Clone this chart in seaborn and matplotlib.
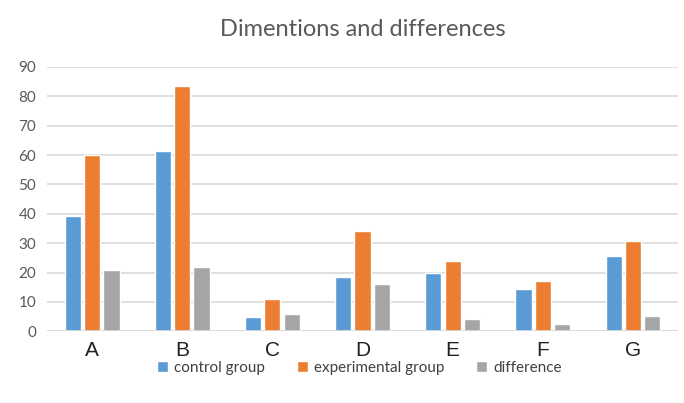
import matplotlib
matplotlib.use("Agg")
import matplotlib.pyplot as plt
import seaborn as sns
import pandas as pd

categories = ["A", "B", "C", "D", "E", "F", "G"]
control_group = [39.2, 61.3, 4.8, 18.4, 19.7, 14.5, 25.5]
experimental_group = [59.9, 83.4, 11.0, 34.3, 23.9, 17.1, 30.6]
difference = [20.7, 21.9, 6.0, 16.1, 4.1, 2.5, 5.1]
series_names = ["control group", "experimental group", "difference"]
y_ticks = [0, 10, 20, 30, 40, 50, 60, 70, 80, 90]

rows = []
for name, vals in zip(series_names, [control_group, experimental_group, difference]):
    for c, v in zip(categories, vals):
        rows.append({"cat": c, "series": name, "value": v})
df = pd.DataFrame(rows)

sns.set_theme(style="white")
plt.rcParams["font.family"] = ["Lato", "DejaVu Sans"]

fig = plt.figure(figsize=(6.84, 4.03), dpi=100)
ax = fig.add_axes([0.069, 0.178, 0.922, 0.656])

palette = ["#5B9BD5", "#ED7D31", "#A5A5A5"]
sns.barplot(data=df, x="cat", y="value", hue="series", palette=palette,
            width=0.64, gap=0.16, ax=ax, saturation=1, legend=True)

ax.set_ylim(0, 90)
ax.set_yticks(y_ticks)
ax.yaxis.grid(True, color="#D9D9D9", linewidth=1.2)
ax.set_axisbelow(True)
for s in ax.spines.values():
    s.set_visible(False)
ax.set_xlabel("")
ax.set_ylabel("")
ax.tick_params(axis="y", labelsize=11, colors="#595959", length=0, pad=8)
ax.tick_params(axis="x", labelsize=15, colors="#222222", length=0, pad=7)
for lbl in ax.get_xticklabels():
    lbl.set_fontfamily(["Liberation Sans", "DejaVu Sans"])
ax.axhline(0, color="#D9D9D9", linewidth=1.2)

ax.set_title("Dimentions and differences", fontsize=17, color="#595959", pad=22)

leg = ax.legend(loc="upper center", bbox_to_anchor=(0.495, -0.06), ncol=3, frameon=False,
                fontsize=11, handlelength=0.7, handleheight=0.7, columnspacing=2.1,
                handletextpad=0.4)
for t in leg.get_texts():
    t.set_color("#404040")

fig.savefig("out.png", dpi=100)
